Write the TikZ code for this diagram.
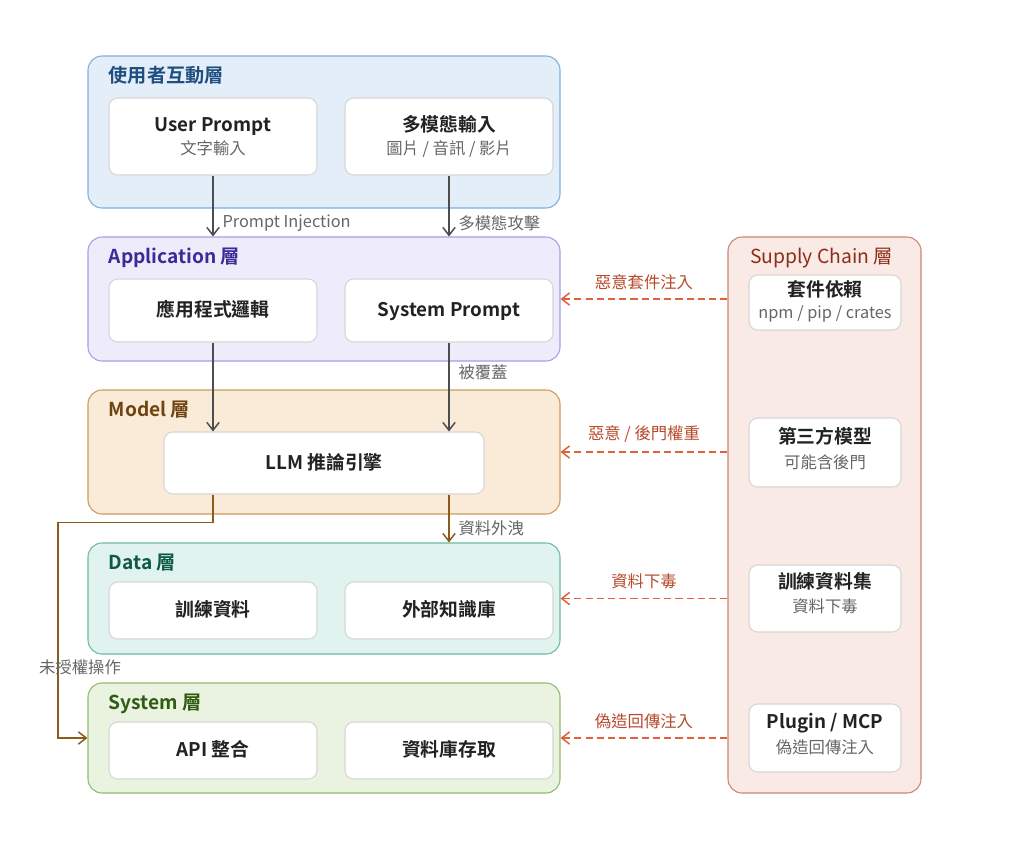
\documentclass[tikz,border=0pt]{standalone}
\usepackage{fontspec}
\setmainfont{Noto Sans CJK TC}[BoldFont={Noto Sans CJK TC Bold}]
\usetikzlibrary{arrows.meta, positioning, fit}

\definecolor{userfill}{HTML}{E4EEF9}
\definecolor{userline}{HTML}{7FAEDC}
\definecolor{usertext}{HTML}{1F4F80}
\definecolor{appfill}{HTML}{EEECFB}
\definecolor{appline}{HTML}{A79CEB}
\definecolor{apptext}{HTML}{3A2C97}
\definecolor{modelfill}{HTML}{FAEBD8}
\definecolor{modelline}{HTML}{C99A5E}
\definecolor{modeltext}{HTML}{6E4410}
\definecolor{datafill}{HTML}{E1F3EE}
\definecolor{dataline}{HTML}{6DB9A1}
\definecolor{datatext}{HTML}{0E5A43}
\definecolor{sysfill}{HTML}{E9F3DF}
\definecolor{sysline}{HTML}{8FBB6E}
\definecolor{systext}{HTML}{2D5C12}
\definecolor{supfill}{HTML}{FAEAE6}
\definecolor{supline}{HTML}{CC8473}
\definecolor{suptext}{HTML}{8A2E17}
\definecolor{boxline}{HTML}{D6D6D6}
\definecolor{maintext}{HTML}{222222}
\definecolor{subtext}{HTML}{666666}
\definecolor{flowgray}{HTML}{4D4D4D}
\definecolor{flowbrown}{HTML}{8C5A1C}
\definecolor{attackline}{HTML}{E0613C}
\definecolor{attacktext}{HTML}{B84A2C}

\tikzset{x = 0.02cm, y = -0.02cm,
         layer/.style = {draw = #1line, fill = #1fill, line width = 0.6pt,
                         rounded corners = 8pt, inner sep = 0pt},
         title/.style = {text = #1text, inner sep = 0pt, anchor = base west,
                         font = \fontsize{10.9}{12}\selectfont\bfseries},
         item/.style = {draw = boxline, fill = white, line width = 0.6pt,
                        rounded corners = 5pt, inner sep = 0pt},
         itemtitle/.style = {inner sep = 0pt, anchor = base, text = maintext,
                             font = \fontsize{10.7}{12}\selectfont\bfseries},
         itemsub/.style = {inner sep = 0pt, anchor = base, text = subtext,
                           font = \fontsize{9.3}{11}\selectfont},
         flow/.style = {draw = flowgray, line width = 0.85pt,
                        -{Straight Barb[length = 4.5pt, width = 7pt]}},
         leak/.style = {flow, draw = flowbrown},
         attack/.style = {draw = attackline, line width = 0.85pt,
                          dash pattern = on 4pt off 2.4pt,
                          -{Straight Barb[length = 4.5pt, width = 7pt]}},
         flowlabel/.style = {inner sep = 0pt, text = subtext,
                             font = \fontsize{9.3}{11}\selectfont},
         attacklabel/.style = {flowlabel, text = attacktext}}

\begin{document}
\begin{tikzpicture}
    \useasboundingbox[fill = white] (0,0) rectangle (1024,863);

    % layers
    \node[layer = user,  fit = {(88,56) (560,208)}]   (user)  {};
    \node[layer = app,   fit = {(88,237) (560,361)}]  (app)   {};
    \node[layer = model, fit = {(88,390) (560,514)}]  (model) {};
    \node[layer = data,  fit = {(88,543) (560,654)}]  (data)  {};
    \node[layer = sys,   fit = {(88,683) (560,793)}]  (sys)   {};
    \node[layer = sup,   fit = {(728,237) (921,793)}] (sup)   {};

    \node[title = user]  (user-t)  at ([shift = {(21,27)}]user.north west)  {使用者互動層};
    \node[title = app]   (app-t)   at ([shift = {(21,27)}]app.north west)   {Application 層};
    \node[title = model] (model-t) at ([shift = {(21,27)}]model.north west) {Model 層};
    \node[title = data]  (data-t)  at ([shift = {(21,27)}]data.north west)  {Data 層};
    \node[title = sys]   (sys-t)   at ([shift = {(21,27)}]sys.north west)   {System 層};
    \node[title = sup, anchor = base, font = \fontsize{11}{12}\selectfont]
                         (sup-t)   at ([shift = {(94,27)}]sup.north west)   {Supply Chain 層};

    % components
    \node[item, fit = {(109,98) (317,175)}]  (prompt)    {};
    \node[item, fit = {(345,98) (553,175)}]  (multi)     {};
    \node[item, fit = {(109,279) (317,342)}] (logic)     {};
    \node[item, fit = {(345,279) (553,342)}] (sysprompt) {};
    \node[item, fit = {(164,432) (484,494)}] (llm)       {};
    \node[item, fit = {(109,582) (317,639)}] (train)     {};
    \node[item, fit = {(345,582) (553,639)}] (kb)        {};
    \node[item, fit = {(109,722) (317,779)}] (api)       {};
    \node[item, fit = {(345,722) (553,779)}] (db)        {};

    \node[itemtitle] (prompt-t)    at ([shift = {(0,-5)}]prompt.center)   {User Prompt};
    \node[itemsub]   (prompt-s)    at ([shift = {(0,18)}]prompt.center)   {文字輸入};
    \node[itemtitle] (multi-t)     at ([shift = {(0,-5)}]multi.center)    {多模態輸入};
    \node[itemsub]   (multi-s)     at ([shift = {(0,18)}]multi.center)    {圖片 / 音訊 / 影片};
    \node[itemtitle] (logic-t)     at ([shift = {(0,6)}]logic.center)     {應用程式邏輯};
    \node[itemtitle] (sysprompt-t) at ([shift = {(0,6)}]sysprompt.center) {System Prompt};
    \node[itemtitle] (llm-t)       at ([shift = {(0,6)}]llm.center)       {LLM 推論引擎};
    \node[itemtitle] (train-t)     at ([shift = {(0,6)}]train.center)     {訓練資料};
    \node[itemtitle] (kb-t)        at ([shift = {(0,6)}]kb.center)        {外部知識庫};
    \node[itemtitle] (api-t)       at ([shift = {(0,6)}]api.center)       {API 整合};
    \node[itemtitle] (db-t)        at ([shift = {(0,6)}]db.center)        {資料庫存取};

    % supply chain
    \node[item, fit = {(749,275) (901,330)}] (deps)       {};
    \node[item, fit = {(749,418) (901,487)}] (thirdparty) {};
    \node[item, fit = {(749,565) (901,632)}] (trainset)   {};
    \node[item, fit = {(749,704) (901,772)}] (plugin)     {};

    \node[itemtitle] (deps-t)       at ([shift = {(0,-6)}]deps.center)        {套件依賴};
    \node[itemsub]   (deps-s)       at ([shift = {(0,16)}]deps.center)        {npm / pip / crates};
    \node[itemtitle] (thirdparty-t) at ([shift = {(0,-9)}]thirdparty.center)  {第三方模型};
    \node[itemsub]   (thirdparty-s) at ([shift = {(0,16)}]thirdparty.center)  {可能含後門};
    \node[itemtitle] (trainset-t)   at ([shift = {(0,-10)}]trainset.center)   {訓練資料集};
    \node[itemsub]   (trainset-s)   at ([shift = {(0,14)}]trainset.center)    {資料下毒};
    \node[itemtitle] (plugin-t)     at ([shift = {(0,-10)}]plugin.center)     {Plugin / MCP};
    \node[itemsub]   (plugin-s)     at ([shift = {(0,15)}]plugin.center)      {偽造回傳注入};

    % data flow
    \draw[flow] (prompt.south) -- node[flowlabel, pos = 0.78, right = 5pt] {Prompt Injection} (prompt.south |- app.north);
    \draw[flow] (multi.south) -- node[flowlabel, pos = 0.78, right = 5pt] {多模態攻擊} (multi.south |- app.north);
    \draw[flow] (logic.south) -- (logic.south |- llm.north);
    \draw[flow] (sysprompt.south) -- node[flowlabel, pos = 0.33, right = 5pt] {被覆蓋} (sysprompt.south |- llm.north);
    \draw[leak] (sysprompt.south |- llm.south) -- node[flowlabel, pos = 0.71, right = 5pt] {資料外洩} (sysprompt.south |- data.north);

    \coordinate (detour) at (58,738);
    \draw[leak] (logic.south |- llm.south) -- ++(0,28) -| (detour) -- (sys.west);
    \node[flowlabel] (detour-t) at (80,667) {未授權操作};

    % supply chain attacks
    \draw[attack] (sup.west |- app.east)   -- node[attacklabel, above = 5pt] {惡意套件注入}   (app.east);
    \draw[attack] (sup.west |- model.east) -- node[attacklabel, above = 5pt] {惡意 / 後門權重} (model.east);
    \draw[attack] (sup.west |- data.east)  -- node[attacklabel, above = 5pt] {資料下毒}       (data.east);
    \draw[attack] (sup.west |- sys.east)   -- node[attacklabel, above = 5pt] {偽造回傳注入}   (sys.east);
\end{tikzpicture}
\end{document}
